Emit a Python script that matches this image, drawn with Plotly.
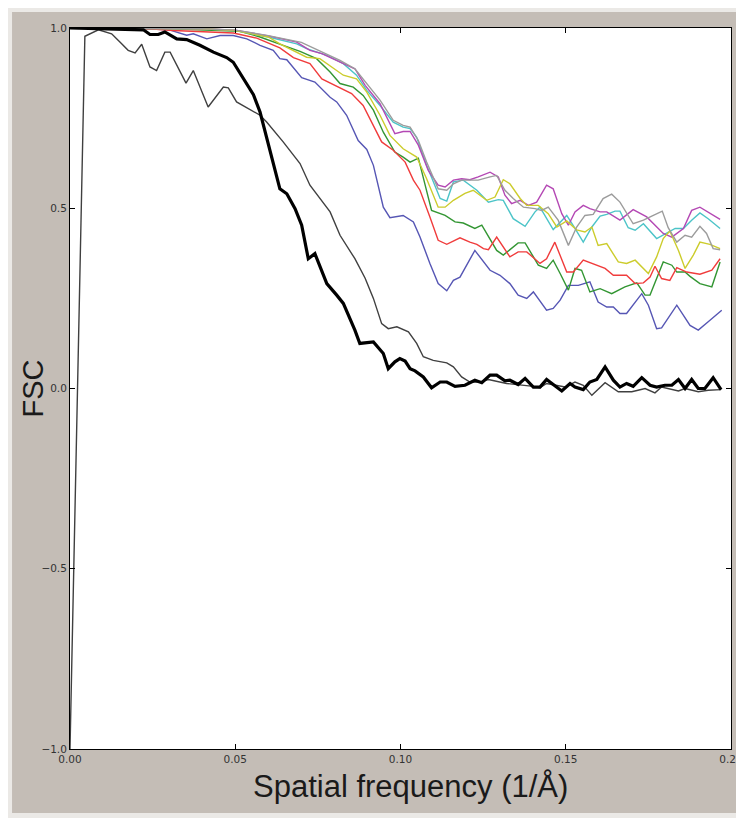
import plotly.graph_objects as go

# ---------------- data ----------------
thick_x = [0.0, 0.0222, 0.0242, 0.0267, 0.0287, 0.0323, 0.0353, 0.0393, 0.0434, 0.0474, 0.0494,
           0.0524, 0.0555, 0.0575, 0.0605, 0.0635, 0.0656, 0.0681, 0.0701, 0.0721, 0.0741, 0.0777,
           0.0807, 0.0827, 0.0862, 0.0877, 0.0918, 0.0948, 0.0963, 0.0983, 0.0998, 0.1014, 0.1029,
           0.1044, 0.1069, 0.1094, 0.1120, 0.1140, 0.1165, 0.1195, 0.1225, 0.1246, 0.1271, 0.1291,
           0.1316, 0.1331, 0.1356, 0.1377, 0.1402, 0.1422, 0.1442, 0.1467, 0.1488, 0.1513, 0.1528,
           0.1553, 0.1573, 0.1594, 0.1619, 0.1644, 0.1664, 0.1684, 0.1704, 0.1730, 0.1755, 0.1775,
           0.1800, 0.1821, 0.1841, 0.1861, 0.1881, 0.1901, 0.1921, 0.1946, 0.1970]
thick_y = [1.0, 0.995, 0.982, 0.982, 0.989, 0.970, 0.968, 0.952, 0.933, 0.918, 0.905,
           0.862, 0.815, 0.767, 0.656, 0.554, 0.540, 0.499, 0.453, 0.360, 0.374, 0.291,
           0.259, 0.236, 0.162, 0.125, 0.129, 0.097, 0.055, 0.074, 0.083, 0.076, 0.055,
           0.049, 0.032, 0.002, 0.018, 0.018, 0.006, 0.009, 0.023, 0.016, 0.037, 0.037,
           0.021, 0.023, 0.011, 0.028, 0.004, 0.004, 0.025, 0.009, -0.007, 0.014, 0.004,
           -0.003, 0.018, 0.025, 0.060, 0.023, 0.004, 0.014, 0.006, 0.030, 0.009, 0.004,
           0.009, 0.009, 0.025, 0.000, 0.025, 0.000, 0.000, 0.030, -0.003]

thin_x = [0.0, 0.0045, 0.0086, 0.0126, 0.0151, 0.0176, 0.0197, 0.0217, 0.0242, 0.0262, 0.0287,
          0.0303, 0.0351, 0.0373, 0.0418, 0.0464, 0.0479, 0.0504, 0.0575, 0.0595, 0.0645, 0.0696,
          0.0726, 0.0787, 0.0817, 0.0862, 0.0893, 0.0918, 0.0943, 0.0963, 0.0989, 0.1024, 0.1049,
          0.1069, 0.1099, 0.1140, 0.1160, 0.1185, 0.1210, 0.1241, 0.1266, 0.1321, 0.1402, 0.1422,
          0.1442, 0.1498, 0.1528, 0.1553, 0.1579, 0.1619, 0.1659, 0.1700, 0.1740, 0.1770, 0.1790,
          0.1841, 0.1861, 0.1901, 0.1931, 0.1970]
thin_y = [-1.0, 0.977, 0.995, 0.984, 0.961, 0.938, 0.931, 0.955, 0.892, 0.882, 0.933,
          0.933, 0.847, 0.882, 0.781, 0.836, 0.834, 0.795, 0.758, 0.739, 0.684, 0.624,
          0.564, 0.490, 0.425, 0.360, 0.306, 0.250, 0.180, 0.166, 0.171, 0.157, 0.125,
          0.088, 0.078, 0.071, 0.060, 0.032, 0.018, 0.018, 0.025, 0.014, 0.006, 0.002,
          0.014, 0.004, 0.018, 0.009, -0.019, 0.016, -0.009, -0.009, 0.000, -0.012, 0.004,
          -0.007, 0.000, -0.009, -0.005, -0.003]

blue_x = [0.0, 0.0242, 0.0303, 0.0353, 0.0373, 0.0414, 0.0454, 0.0494, 0.0535, 0.0575, 0.0615,
          0.0635, 0.0656, 0.0701, 0.0741, 0.0787, 0.0807, 0.0837, 0.0872, 0.0898, 0.0918, 0.0948,
          0.0968, 0.1008, 0.1039, 0.1059, 0.1089, 0.1114, 0.1140, 0.1160, 0.1180, 0.1225, 0.1271,
          0.1301, 0.1331, 0.1356, 0.1382, 0.1402, 0.1442, 0.1462, 0.1483, 0.1508, 0.1538, 0.1573,
          0.1598, 0.1624, 0.1644, 0.1664, 0.1684, 0.1730, 0.1750, 0.1775, 0.1790, 0.1836, 0.1876,
          0.1901, 0.1931, 0.1972]
blue_y = [1.0, 0.998, 0.994, 0.980, 0.984, 0.970, 0.979, 0.979, 0.970, 0.952, 0.938,
          0.915, 0.912, 0.862, 0.850, 0.808, 0.795, 0.758, 0.688, 0.663, 0.619, 0.503,
          0.474, 0.480, 0.462, 0.420, 0.347, 0.291, 0.271, 0.300, 0.309, 0.383, 0.328,
          0.314, 0.291, 0.259, 0.250, 0.268, 0.217, 0.222, 0.245, 0.286, 0.286, 0.296,
          0.240, 0.226, 0.226, 0.208, 0.208, 0.263, 0.231, 0.166, 0.168, 0.231, 0.175,
          0.162, 0.185, 0.217]

green_x = [0.0, 0.0300, 0.0514, 0.0575, 0.0645, 0.0696, 0.0746, 0.0787, 0.0817, 0.0857, 0.0887,
           0.0918, 0.0948, 0.0983, 0.1008, 0.1029, 0.1054, 0.1074, 0.1094, 0.1135, 0.1165, 0.1190,
           0.1225, 0.1246, 0.1271, 0.1291, 0.1311, 0.1336, 0.1356, 0.1377, 0.1417, 0.1442, 0.1462,
           0.1483, 0.1508, 0.1528, 0.1548, 0.1573, 0.1604, 0.1639, 0.1679, 0.1715, 0.1740, 0.1755,
           0.1795, 0.1821, 0.1836, 0.1861, 0.1876, 0.1906, 0.1942, 0.1967]
green_y = [1.0, 0.998, 0.991, 0.975, 0.952, 0.935, 0.915, 0.878, 0.846, 0.836, 0.813,
           0.772, 0.711, 0.656, 0.642, 0.628, 0.639, 0.564, 0.494, 0.480, 0.462, 0.459,
           0.444, 0.453, 0.416, 0.383, 0.370, 0.388, 0.404, 0.404, 0.342, 0.333, 0.356,
           0.319, 0.273, 0.333, 0.328, 0.268, 0.277, 0.263, 0.282, 0.293, 0.259, 0.259,
           0.351, 0.342, 0.323, 0.323, 0.311, 0.291, 0.282, 0.351]

red_x = [0.0, 0.0250, 0.0313, 0.0494, 0.0565, 0.0635, 0.0676, 0.0726, 0.0762, 0.0792, 0.0822,
         0.0852, 0.0887, 0.0918, 0.0943, 0.0978, 0.1014, 0.1039, 0.1059, 0.1089, 0.1114, 0.1140,
         0.1180, 0.1210, 0.1231, 0.1251, 0.1266, 0.1291, 0.1331, 0.1356, 0.1382, 0.1422, 0.1442,
         0.1467, 0.1503, 0.1523, 0.1553, 0.1619, 0.1644, 0.1684, 0.1710, 0.1735, 0.1755, 0.1770,
         0.1790, 0.1815, 0.1836, 0.1866, 0.1906, 0.1942, 0.1967]
red_y = [1.0, 0.997, 0.993, 0.986, 0.972, 0.945, 0.918, 0.901, 0.859, 0.846, 0.832,
         0.818, 0.785, 0.730, 0.684, 0.661, 0.628, 0.578, 0.550, 0.476, 0.411, 0.400,
         0.418, 0.406, 0.400, 0.388, 0.385, 0.420, 0.365, 0.379, 0.379, 0.347, 0.360,
         0.406, 0.323, 0.323, 0.356, 0.333, 0.314, 0.314, 0.291, 0.293, 0.309, 0.339,
         0.305, 0.300, 0.335, 0.323, 0.317, 0.328, 0.360]

cyan_x = [0.0, 0.0400, 0.0500, 0.0600, 0.0686, 0.0716, 0.0777, 0.0827, 0.0867, 0.0898, 0.0938,
          0.0978, 0.1008, 0.1029, 0.1049, 0.1079, 0.1120, 0.1140, 0.1160, 0.1190, 0.1231, 0.1266,
          0.1296, 0.1311, 0.1341, 0.1377, 0.1407, 0.1422, 0.1462, 0.1503, 0.1528, 0.1553, 0.1579,
          0.1604, 0.1624, 0.1649, 0.1664, 0.1689, 0.1710, 0.1735, 0.1775, 0.1805, 0.1831, 0.1856,
          0.1881, 0.1906, 0.1931, 0.1967]
cyan_y = [1.0, 0.998, 0.993, 0.975, 0.956, 0.943, 0.924, 0.901, 0.869, 0.827, 0.785,
          0.739, 0.725, 0.721, 0.697, 0.619, 0.527, 0.520, 0.573, 0.578, 0.550, 0.517,
          0.524, 0.522, 0.471, 0.450, 0.490, 0.503, 0.441, 0.480, 0.444, 0.406, 0.448,
          0.478, 0.483, 0.492, 0.492, 0.446, 0.439, 0.457, 0.416, 0.430, 0.444, 0.444,
          0.467, 0.487, 0.471, 0.444]

magenta_x = [0.0, 0.0400, 0.0500, 0.0600, 0.0686, 0.0726, 0.0762, 0.0817, 0.0862, 0.0893, 0.0938,
             0.0983, 0.1008, 0.1029, 0.1054, 0.1084, 0.1114, 0.1135, 0.1160, 0.1185, 0.1210, 0.1235,
             0.1271, 0.1296, 0.1316, 0.1336, 0.1362, 0.1387, 0.1412, 0.1442, 0.1462, 0.1488, 0.1508,
             0.1528, 0.1553, 0.1573, 0.1604, 0.1624, 0.1664, 0.1704, 0.1745, 0.1795, 0.1821, 0.1856,
             0.1881, 0.1906, 0.1967]
magenta_y = [1.0, 0.998, 0.994, 0.978, 0.961, 0.938, 0.929, 0.905, 0.887, 0.841, 0.790,
             0.707, 0.713, 0.713, 0.675, 0.605, 0.564, 0.559, 0.578, 0.582, 0.579, 0.587,
             0.600, 0.587, 0.536, 0.513, 0.522, 0.508, 0.517, 0.564, 0.554, 0.485, 0.453,
             0.490, 0.508, 0.499, 0.490, 0.490, 0.467, 0.496, 0.476, 0.430, 0.420, 0.444,
             0.494, 0.503, 0.469]

yellow_x = [0.0, 0.0400, 0.0500, 0.0600, 0.0635, 0.0716, 0.0756, 0.0827, 0.0867, 0.0898, 0.0938,
            0.0968, 0.1008, 0.1049, 0.1079, 0.1114, 0.1135, 0.1160, 0.1195, 0.1220, 0.1261, 0.1286,
            0.1311, 0.1331, 0.1362, 0.1382, 0.1417, 0.1447, 0.1473, 0.1503, 0.1533, 0.1558, 0.1579,
            0.1598, 0.1624, 0.1659, 0.1684, 0.1710, 0.1750, 0.1775, 0.1795, 0.1815, 0.1841, 0.1861,
            0.1886, 0.1906, 0.1936, 0.1967]
yellow_y = [1.0, 0.998, 0.993, 0.975, 0.956, 0.919, 0.915, 0.869, 0.859, 0.822, 0.758,
            0.702, 0.665, 0.642, 0.582, 0.503, 0.503, 0.522, 0.541, 0.550, 0.522, 0.531,
            0.579, 0.568, 0.527, 0.508, 0.508, 0.485, 0.448, 0.465, 0.440, 0.434, 0.448,
            0.397, 0.402, 0.351, 0.347, 0.356, 0.319, 0.365, 0.416, 0.437, 0.383, 0.333,
            0.370, 0.406, 0.400, 0.388]

gray_x = [0.0, 0.0400, 0.0500, 0.0600, 0.0700, 0.0817, 0.0862, 0.0898, 0.0938, 0.0978, 0.1008,
          0.1029, 0.1054, 0.1079, 0.1114, 0.1140, 0.1160, 0.1185, 0.1235, 0.1271, 0.1291, 0.1316,
          0.1341, 0.1372, 0.1407, 0.1427, 0.1447, 0.1477, 0.1508, 0.1533, 0.1558, 0.1583, 0.1613,
          0.1639, 0.1664, 0.1704, 0.1735, 0.1765, 0.1792, 0.1810, 0.1836, 0.1861, 0.1881, 0.1906,
          0.1926, 0.1946, 0.1967]
gray_y = [1.0, 0.998, 0.994, 0.979, 0.960, 0.910, 0.887, 0.846, 0.800, 0.744, 0.730,
          0.725, 0.688, 0.628, 0.554, 0.550, 0.568, 0.578, 0.578, 0.587, 0.591, 0.550,
          0.527, 0.503, 0.499, 0.494, 0.503, 0.467, 0.397, 0.448, 0.480, 0.483, 0.527,
          0.539, 0.517, 0.457, 0.467, 0.480, 0.492, 0.446, 0.406, 0.425, 0.420, 0.450,
          0.430, 0.388, 0.385]

x_ticks = [0.0, 0.05, 0.10, 0.15, 0.20]
y_ticks = [-1.0, -0.5, 0.0, 0.5, 1.0]
x_title = "Spatial frequency (1/Å)"
y_title = "FSC"

# ---------------- figure ----------------
fig = go.Figure()

colored = [
    (blue_x, blue_y, "#5656b4"),
    (green_x, green_y, "#339633"),
    (red_x, red_y, "#f03c3c"),
    (cyan_x, cyan_y, "#4cc4c8"),
    (magenta_x, magenta_y, "#b448b4"),
    (yellow_x, yellow_y, "#cccc2c"),
    (gray_x, gray_y, "#9c9c9c"),
]
for xs, ys, col in colored:
    fig.add_trace(go.Scatter(x=xs, y=ys, mode="lines",
                             line=dict(color=col, width=1.4), showlegend=False,
                             hoverinfo="skip"))

fig.add_trace(go.Scatter(x=thin_x, y=thin_y, mode="lines",
                         line=dict(color="#404040", width=1.4), showlegend=False,
                         hoverinfo="skip"))
fig.add_trace(go.Scatter(x=thick_x, y=thick_y, mode="lines",
                         line=dict(color="#000000", width=3.2), showlegend=False,
                         hoverinfo="skip"))

axis_common = dict(
    showgrid=False, zeroline=False,
    showline=True, linecolor="#000000", linewidth=1, mirror="ticks",
    ticks="inside", ticklen=5, tickwidth=1, tickcolor="#000000",
    tickfont=dict(family="DejaVu Sans", size=10.5, color="#333333"),
)

fig.update_xaxes(range=[0, 0.2], tickvals=x_ticks, tickformat=".2f", **axis_common)
fig.update_yaxes(range=[-1, 1], tickvals=y_ticks, tickformat=".1f", **axis_common)

# axis titles placed as annotations for exact positioning
fig.add_annotation(text=x_title, xref="paper", yref="paper", x=0.515, y=-0.0527,
                   xanchor="center", yanchor="middle", showarrow=False,
                   font=dict(family="Liberation Sans", size=31, color="#1a1a1a"))
fig.add_annotation(text=y_title, xref="paper", yref="paper", x=-0.056, y=0.5,
                   xanchor="center", yanchor="middle", showarrow=False, textangle=-90,
                   font=dict(family="Liberation Sans", size=29, color="#1a1a1a"))

# light outer frame of the window (decorative)
frame_col = "#ebe9e6"
fig.add_shape(type="rect", xref="paper", yref="paper", x0=-0.1, x1=1.03,
              y0=1.0222, y1=1.03, fillcolor=frame_col, line_width=0, layer="above")
fig.add_shape(type="rect", xref="paper", yref="paper", x0=-0.1, x1=-0.0877,
              y0=-0.1, y1=1.03, fillcolor=frame_col, line_width=0, layer="above")
fig.add_shape(type="rect", xref="paper", yref="paper", x0=-0.1, x1=1.03,
              y0=-0.1, y1=-0.0888, fillcolor=frame_col, line_width=0, layer="above")

fig.update_layout(
    width=736, height=810,
    margin=dict(l=62, r=13, t=20, b=69, autoexpand=False),
    paper_bgcolor="#c4bdb6",
    plot_bgcolor="#ffffff",
    showlegend=False,
)

fig.write_html("out.html")
